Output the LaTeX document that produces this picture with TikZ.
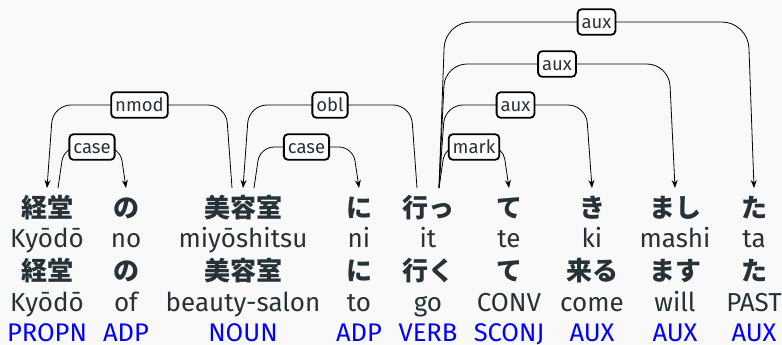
\documentclass[tikz,border=0pt]{standalone}
\usepackage{fontspec}
\setmainfont{Fira Sans}
\newfontfamily\cjk{Noto Sans CJK JP}
\usetikzlibrary{arrows.meta,calc}
\definecolor{ink}{HTML}{263238}
\definecolor{posblue}{HTML}{0000FF}
\definecolor{bg}{HTML}{F9F9F9}

% dependency arc: start, end, level coordinate, label, corner radius, slant
\newcommand\deparc[6]{%
  \draw[arcline,rounded corners=#5]
    (#1) -- ($(#1 |- #3)+(#6,0)$)
    -- node[deprel]{#4} ($(#2 |- #3)+(-#6,0)$) -- (#2);}

\begin{document}
\begin{tikzpicture}[x=1pt,y=-1pt,
  jp/.style={font=\cjk\bfseries\fontsize{26}{26}\selectfont,text=ink,anchor=base,inner sep=0pt},
  lat/.style={font=\fontsize{26}{26}\selectfont,text=ink,anchor=base,inner sep=0pt},
  upos/.style={font=\fontsize{25.5}{25.5}\selectfont,text=posblue,anchor=base,inner sep=0pt,text depth=0pt},
  deprel/.style={draw=black,line width=1.8pt,fill=white,rounded corners=4pt,
    font=\fontsize{18.5}{18.5}\selectfont,text=ink,inner xsep=4pt,inner ysep=3.5pt,
    text height=16pt,text depth=2.5pt},
  arcline/.style={draw=black,line width=0.8pt,-{Stealth[length=8pt,width=6pt]}},
]
\fill[bg] (0,0) rectangle (782,345);
\useasboundingbox (0,0) rectangle (782,345);

% token columns
\foreach \n/\x/\a/\b/\c/\d/\e in {
  1/47/経堂/Kyōdō/経堂/Kyōdō/PROPN,
  2/126/の/no/の/of/ADP,
  3/243/美容室/miyōshitsu/美容室/beauty-salon/NOUN,
  4/359/に/ni/に/to/ADP,
  5/428/行っ/it/行く/go/VERB,
  6/509/て/te/て/CONV/SCONJ,
  7/592/き/ki/来る/come/AUX,
  8/675/まし/mashi/ます/will/AUX,
  9/754/た/ta/た/PAST/AUX}{
  \node[jp]   (w\n)  at (\x,217) {\a};
  \node[lat]  (r\n)  at (\x,247.5) {\b};
  \node[jp]   (l\n)  at (\x,280) {\c};
  \node[lat]  (g\n)  at (\x,311) {\d};
  \node[upos] (p\n)  at (\x,341) {\e};
  \coordinate (in\n) at ($(w\n.base)+(0,-29)$);
  \coordinate (L\n)  at ($(w\n.base)+(-11,-29)$);
  \coordinate (R\n)  at ($(w\n.base)+(11,-29)$);
}

% arc levels
\coordinate (lev1) at (0,147);
\coordinate (lev2) at (0,105);
\coordinate (lev3) at (0,64);
\coordinate (lev4) at (0,22);

\deparc{L3}{in1}{lev2}{nmod}{18pt}{-6}
\deparc{R1}{in2}{lev1}{case}{14pt}{6}
\deparc{L5}{in3}{lev2}{obl}{18pt}{-6}
\deparc{R3}{in4}{lev1}{case}{14pt}{6}
\deparc{R5}{in6}{lev1}{mark}{12pt}{6}
\deparc{R5}{in7}{lev2}{aux}{18pt}{6}
\deparc{R5}{in8}{lev3}{aux}{22pt}{6}
\deparc{R5}{in9}{lev4}{aux}{26pt}{6}
\end{tikzpicture}
\end{document}
